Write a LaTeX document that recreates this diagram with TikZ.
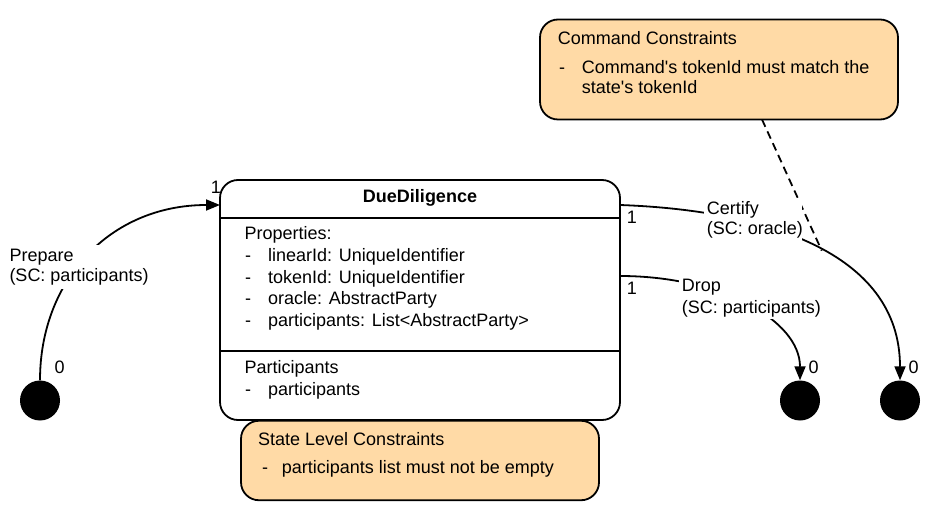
\documentclass[tikz,border=0pt]{standalone}
\usepackage{fontspec}
\setmainfont{Liberation Sans}
\usetikzlibrary{arrows.meta}
\definecolor{notecol}{HTML}{FFDAA6}
\begin{document}
\begin{tikzpicture}[x=1pt,y=-1pt,
  font=\fontsize{18}{21.5}\selectfont,
  txt/.style={anchor=base west, inner sep=0pt},
  lblbg/.style={fill=white, inner sep=0pt, anchor=north west},
  wire/.style={line width=1.8pt},
  arr/.style={wire, -{Triangle[length=14pt,width=11pt]}},
  term/.style={circle, fill=black, minimum size=40pt, inner sep=0pt},
  box/.style={draw, line width=1.8pt, rounded corners=18pt},
  notebox/.style={box, fill=notecol}]

\useasboundingbox (0,0) rectangle (936,518);

% main state box
\node[box, minimum width=400pt, minimum height=240pt] (dd) at (420,300) {};
\draw[wire] (220,217.7) -- (620,217.7);
\draw[wire] (220,351) -- (620,351);

% notes
\node[notebox, minimum width=358pt, minimum height=79.5pt] (slc) at (420,460.5) {};
\node[notebox, minimum width=358pt, minimum height=100pt] (cmd) at (719,69.5) {};

% terminals
\node[term] (s0) at (40,400.5) {};
\node[term] (e1) at (800,400.5) {};
\node[term] (e2) at (900,400.5) {};

% connection points
\coordinate (ddin) at (220,205);
\coordinate (ddc) at (620,205);
\coordinate (ddd) at (620,276);
\coordinate (cmdout) at (762,119.5);

% connectors
\draw[arr] (s0.north) .. controls (40,280) and (110,205) .. (ddin);
\draw[arr] (ddc) .. controls (760,210) and (900,250) .. coordinate[pos=0.53] (hit) (e2.north);
\draw[arr] (ddd) .. controls (720,276) and (800,320) .. (e1.north);
\draw[wire, dash pattern=on 8pt off 5pt] (cmdout) -- (hit);

% label backgrounds
\node[lblbg, minimum width=142pt, minimum height=44pt] (prepbg) at (7,245) {};
\node[lblbg, minimum width=98pt, minimum height=43pt] (certbg) at (704,198) {};
\node[lblbg, minimum width=143pt, minimum height=43pt] (dropbg) at (679,276) {};

% connector labels
\node[txt] (prep1) at (9.3,261.7) {Prepare};
\node[txt] (prep2) at (9.3,282) {(SC: participants)};
\node[txt] (cert1) at (706.7,214.3) {Certify};
\node[txt] (cert2) at (706.7,235) {(SC: oracle)};
\node[txt] (drop1) at (681.7,291.7) {Drop};
\node[txt] (drop2) at (681.7,313.3) {(SC: participants)};

% multiplicities
\node[txt] (m1) at (210.7,193.3) {1};
\node[txt] (m2) at (626.7,223.3) {1};
\node[txt] (m3) at (626.7,294.3) {1};
\node[txt] (m4) at (54.3,373.3) {0};
\node[txt] (m5) at (808.3,373.3) {0};
\node[txt] (m6) at (908.3,373.3) {0};

% state box text
\node[anchor=base, inner sep=0pt, font=\fontsize{18}{21.5}\selectfont\bfseries] (title) at (420,202.3) {DueDiligence};
\node[txt] (p0) at (244.3,240) {Properties:};
\node[txt] (d1) at (245,261.7) {-};
\node[txt] (p1) at (268,261.7) {linearId: UniqueIdentifier};
\node[txt] (d2) at (245,283.3) {-};
\node[txt] (p2) at (268,283.3) {tokenId: UniqueIdentifier};
\node[txt] (d3) at (245,305) {-};
\node[txt] (p3) at (268,305) {oracle: AbstractParty};
\node[txt] (d4) at (245,326.7) {-};
\node[txt] (p4) at (268,326.7) {participants: List<AbstractParty>};
\node[txt] (q0) at (244.3,373.3) {Participants};
\node[txt] (d5) at (245,395) {-};
\node[txt] (q1) at (268,395) {participants};

% state level constraints text
\node[txt] (s1) at (258,445) {State Level Constraints};
\node[txt] (sd) at (262,473.3) {-};
\node[txt] (s2) at (281.7,473.3) {participants list must not be empty};

% command constraints text
\node[txt] (c1) at (557.7,45) {Command Constraints};
\node[txt] (cd) at (559,73.3) {-};
\node[txt] (c2) at (581.7,73.3) {Command\textquotesingle s tokenId must match the};
\node[txt] (c3) at (581.7,93.3) {state\textquotesingle s tokenId};
\end{tikzpicture}
\end{document}
